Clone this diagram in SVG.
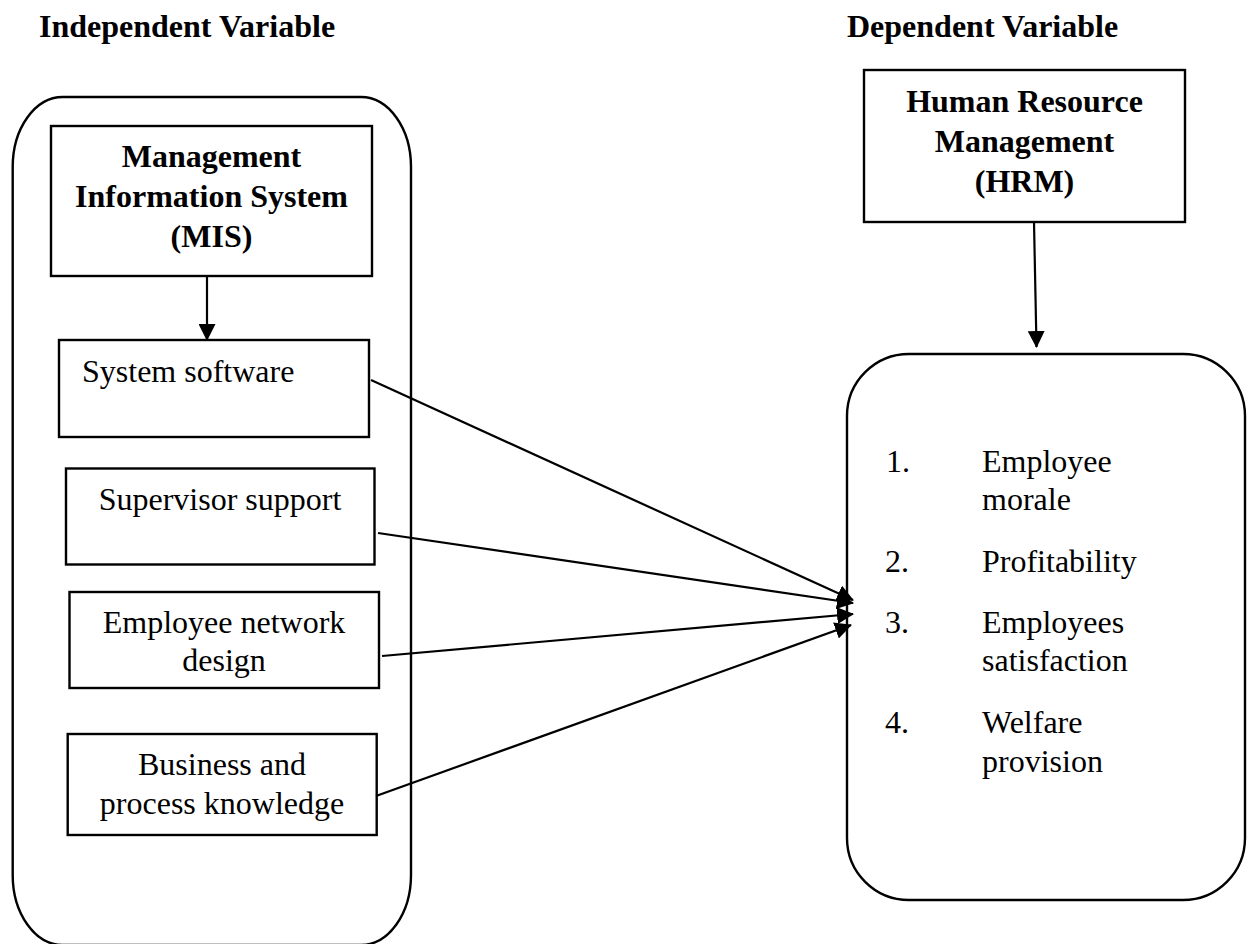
<svg xmlns="http://www.w3.org/2000/svg" width="1248" height="944" viewBox="0 0 1248 944">
<style>
.box{fill:#fff;stroke:#000;stroke-width:2.4}
.rbox{fill:none;stroke:#000;stroke-width:2.4}
.t{font-family:"Liberation Serif","Times New Roman",serif;font-size:32px;fill:#000}
.b{font-weight:bold}
.c{text-anchor:middle}
.ln{stroke:#000;stroke-width:2.2;fill:none}
</style>
<defs>
<marker id="ah" markerUnits="userSpaceOnUse" markerWidth="17" markerHeight="17" viewBox="0 0 17 17" refX="16" refY="8.5" orient="auto">
<path d="M0,0 L17,8.5 L0,17 Z" fill="#000"/>
</marker>
</defs>
<rect width="1248" height="944" fill="#fff"/>
<g id="titles">
<text class="t b" x="39" y="37">Independent Variable</text>
<text class="t b" x="847" y="37">Dependent Variable</text>
</g>
<g id="independent-container">
<rect class="rbox" x="12.7" y="97" width="398.3" height="848" rx="50" ry="70"/>
</g>
<g id="mis">
<rect class="box" x="51" y="126" width="321" height="150"/>
<text class="t b c" x="211.5" y="167">Management</text>
<text class="t b c" x="211.5" y="207">Information System</text>
<text class="t b c" x="211.5" y="247">(MIS)</text>
</g>
<g id="system-software">
<rect class="box" x="59" y="340" width="310" height="97"/>
<text class="t" x="82" y="382">System software</text>
</g>
<g id="supervisor-support">
<rect class="box" x="66" y="468.5" width="308.5" height="96"/>
<text class="t c" x="220" y="510">Supervisor support</text>
</g>
<g id="employee-network-design">
<rect class="box" x="69.5" y="592" width="309.5" height="96"/>
<text class="t c" x="224" y="633">Employee network</text>
<text class="t c" x="224" y="671">design</text>
</g>
<g id="business-process-knowledge">
<rect class="box" x="67.7" y="734" width="309" height="101"/>
<text class="t c" x="222" y="775">Business and</text>
<text class="t c" x="222" y="814">process knowledge</text>
</g>
<g id="hrm">
<rect class="box" x="864" y="70" width="321" height="152"/>
<text class="t b c" x="1024.5" y="112">Human Resource</text>
<text class="t b c" x="1024.5" y="152">Management</text>
<text class="t b c" x="1024.5" y="192">(HRM)</text>
</g>
<g id="hrm-outcomes">
<rect class="rbox" x="847" y="354" width="398" height="546" rx="62" ry="62"/>
<text class="t" x="886" y="472">1.</text>
<text class="t" x="982" y="472">Employee</text>
<text class="t" x="982" y="510">morale</text>
<text class="t" x="885" y="572">2.</text>
<text class="t" x="982" y="572">Profitability</text>
<text class="t" x="885" y="633">3.</text>
<text class="t" x="982" y="633">Employees</text>
<text class="t" x="982" y="671">satisfaction</text>
<text class="t" x="885" y="733">4.</text>
<text class="t" x="982" y="733">Welfare</text>
<text class="t" x="982" y="772">provision</text>
</g>
<g id="connectors">
<line class="ln" x1="207" y1="276" x2="207" y2="340" marker-end="url(#ah)"/>
<line class="ln" x1="1034" y1="222" x2="1036.5" y2="347" marker-end="url(#ah)"/>
<line class="ln" x1="371" y1="380" x2="853" y2="600" marker-end="url(#ah)"/>
<line class="ln" x1="378" y1="533" x2="853" y2="603" marker-end="url(#ah)"/>
<line class="ln" x1="382" y1="656" x2="853" y2="614" marker-end="url(#ah)"/>
<line class="ln" x1="376" y1="796" x2="851" y2="625" marker-end="url(#ah)"/>
</g>
</svg>
